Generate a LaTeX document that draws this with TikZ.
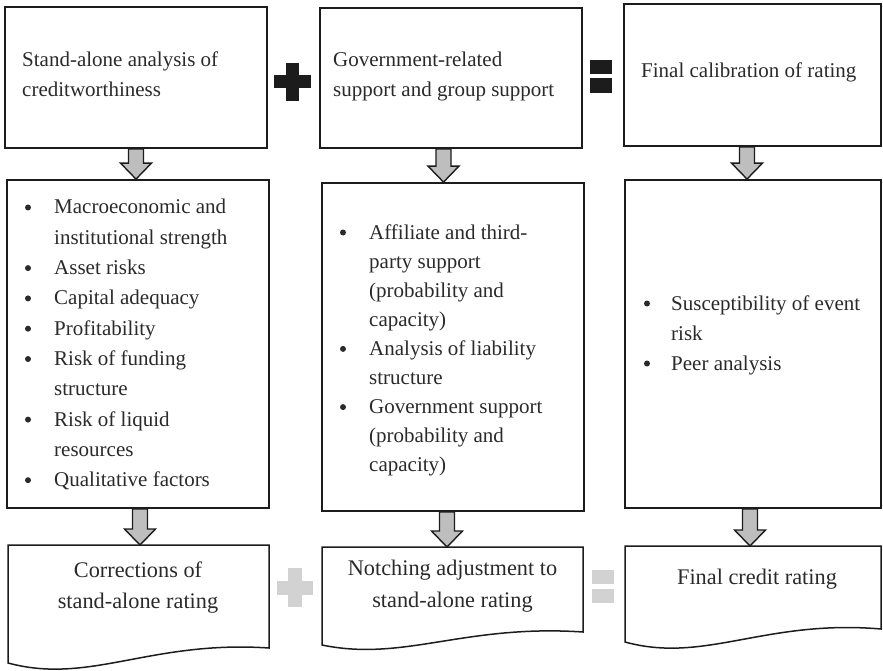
\documentclass[tikz,border=0pt]{standalone}
\usepackage{fontspec}
\setmainfont{Liberation Serif}
\usetikzlibrary{calc}
\definecolor{ink}{HTML}{1C1C1C}
\definecolor{txt}{HTML}{2A2A2A}
\definecolor{shaftgray}{HTML}{BEBEBE}
\definecolor{pale}{HTML}{D2D2D2}

% downward block arrow: x centre, source anchor, target anchor
\newcommand\blockdown[3]{%
  \draw[blk] let \p1=(#2), \p2=(#3) in
    (#1pt-7.5pt,\y1) -- (#1pt+7.5pt,\y1) -- (#1pt+7.5pt,\y2+16pt)
    -- (#1pt+15.5pt,\y2+16pt) -- (#1pt,\y2) -- (#1pt-15.5pt,\y2+16pt)
    -- (#1pt-7.5pt,\y2+16pt) -- cycle;}

\begin{document}
\begin{tikzpicture}[x=1pt,y=-1pt,
  box/.style={draw=ink, line width=1.8pt, inner sep=0pt},
  doc/.style={draw=ink, line width=1.5pt},
  blk/.style={draw=ink, fill=shaftgray, line width=1.4pt, line join=miter},
  body/.style={text=txt, font=\fontsize{21}{30}\selectfont, inner sep=0pt, anchor=base west},
  dot/.style={circle, fill=txt, minimum size=6pt, inner sep=0pt},
  result/.style={text=txt, font=\fontsize{22.3}{31}\selectfont, inner sep=0pt, anchor=base}]
\useasboundingbox (0,0) rectangle (883,671);

% top row
\node[box, minimum width=262pt, minimum height=141pt] (a1) at (136,77.5) {};
\node[box, minimum width=262pt, minimum height=140pt] (b1) at (451,78) {};
\node[box, minimum width=257pt, minimum height=142pt] (c1) at (752.5,75) {};

\node[body] (a1t1) at (22,67) {Stand-alone analysis of};
\node[body] (a1t2) at (22,97) {creditworthiness};
\node[body] (b1t1) at (333,67) {Government-related};
\node[body] (b1t2) at (333,97) {support and group support};
\node[body] (c1t1) at (641,78) {Final calibration of rating};

% black operators
\fill[ink] (286,63) rectangle (299,101);
\fill[ink] (274,75.5) rectangle (311,88.5);
\fill[ink] (590,60) rectangle (612,74);
\fill[ink] (590,78) rectangle (612,93);

% middle row
\node[box, minimum width=262pt, minimum height=328pt] (a2) at (138,344) {};
\node[box, minimum width=262pt, minimum height=328pt] (b2) at (453,347) {};
\node[box, minimum width=256pt, minimum height=328pt] (c2) at (753,344) {};

\foreach \s [count=\i from 0] in {Macroeconomic and, institutional strength,
    Asset risks, Capital adequacy, Profitability, Risk of funding, structure,
    Risk of liquid, resources, Qualitative factors}
  \node[body] (a2l\i) at (54,214+30.3*\i) {\s};
\foreach \i in {0,2,3,4,5,7,9}
  \node[dot] (a2b\i) at (28,207.5+30.3*\i) {};

\foreach \s [count=\i from 0] in {Affiliate and third-, party support,
    {(probability and}, {capacity)}, Analysis of liability, structure,
    Government support, {(probability and}, {capacity)}}
  \node[body] (b2l\i) at (369,239+29.1*\i) {\s};
\foreach \i in {0,4,6}
  \node[dot] (b2b\i) at (343,232.5+29.1*\i) {};

\foreach \s [count=\i from 0] in {Susceptibility of event, risk, Peer analysis}
  \node[body] (c2l\i) at (671,310+30*\i) {\s};
\foreach \i in {0,2}
  \node[dot] (c2b\i) at (647,303.5+30*\i) {};

% bottom row: document shapes
\coordinate (a3) at (138,545);
\coordinate (b3) at (452.5,547);
\coordinate (c3) at (753,546);
\draw[doc] (8,663) -- (8,545) -- (269,545) -- (269,648)
  .. controls (150,640) and (90,685) .. cycle;
\draw[doc] (322,645) -- (322,547) -- (583,547) -- (583,632)
  .. controls (464,624) and (404,662) .. cycle;
\draw[doc] (625,642) -- (625,546) -- (881,546) -- (881,629)
  .. controls (765,619) and (705,664) .. cycle;

\node[result] (a3t1) at (138,577) {Corrections of};
\node[result] (a3t2) at (138,608) {stand-alone rating};
\node[result] (b3t1) at (452.5,575) {Notching adjustment to};
\node[result] (b3t2) at (452.5,607) {stand-alone rating};
\node[result] (c3t1) at (757,584) {Final credit rating};

% pale operators
\fill[pale] (288,568) rectangle (302,607);
\fill[pale] (277,580.5) rectangle (313,594.5);
\fill[pale] (592,570) rectangle (614,584);
\fill[pale] (592,589) rectangle (614,603);

% block arrows
\blockdown{136}{a1.south}{a2.north}
\blockdown{443.5}{b1.south}{b2.north}
\blockdown{747}{c1.south}{c2.north}
\blockdown{140}{a2.south}{a3}
\blockdown{447}{b2.south}{b3}
\blockdown{750}{c2.south}{c3}
\end{tikzpicture}
\end{document}
